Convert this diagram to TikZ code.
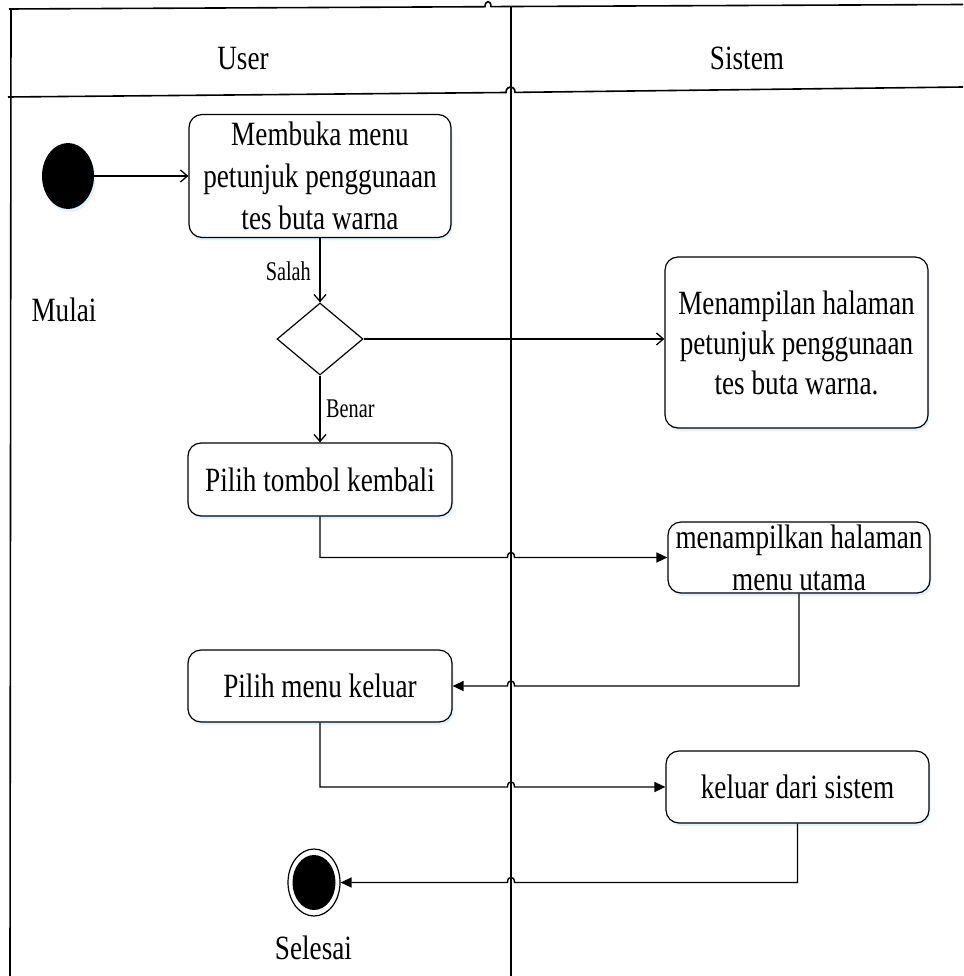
\documentclass[tikz,border=0pt]{standalone}
\usepackage{fontspec}
\setmainfont[FakeStretch=0.8]{Liberation Serif}
\newfontfamily\labelfont[FakeStretch=0.75]{Liberation Serif}
\usetikzlibrary{shapes.geometric,arrows.meta,calc,shadows}

\begin{document}
\begin{tikzpicture}[x=1pt,y=-1pt,
  lane/.style={line width=1.6pt},
  glow/.style={drop shadow={shadow xshift=1.5pt,shadow yshift=-3pt,fill=blue!40!cyan!35,opacity=0.35}},
  activity/.style={draw, line width=1.2pt, rounded corners=13pt, fill=white, glow,
    align=center, inner sep=0pt, font=\fontsize{34}{42}\selectfont},
  decision/.style={draw, diamond, line width=1.2pt, fill=white, inner sep=0pt,
    minimum width=86pt, minimum height=72pt},
  startnode/.style={ellipse, fill=black, inner sep=0pt, glow,
    minimum width=52pt, minimum height=66pt},
  endouter/.style={ellipse, draw, line width=1.2pt, fill=white, inner sep=0pt,
    minimum width=52pt, minimum height=67pt},
  endinner/.style={ellipse, fill=black, inner sep=0pt,
    minimum width=43pt, minimum height=55pt},
  txt/.style={inner sep=0pt, font=\fontsize{34}{42}\selectfont},
  lbl/.style={inner sep=0pt, font=\labelfont\fontsize{27}{30}\selectfont},
  open/.style={line width=1.3pt, -{Straight Barb[length=7pt,width=12pt]}},
  flow/.style={line width=1.4pt, -{Triangle[length=11pt,width=10pt]}}
]
\useasboundingbox (0,0) rectangle (963,976);

% swimlane frame
\coordinate (div) at (511,6);
\draw[lane] (9,9) -- (485,6.7) .. controls (485,0) and (491,0) .. (491,6.6) -- (963,4.5);
\draw[lane] (8,97) -- (506,92.5) .. controls (506,85) and (515,85) .. (515,92.4) -- (963,87);
\draw[lane] (11,9) -- (10,976);
\draw[line width=1.4pt] (div) -- (511,976);

\node[txt, anchor=base] (user) at (243,70) {User};
\node[txt, anchor=base] (sistem) at (747,70) {Sistem};

% activity nodes
\node[startnode] (s) at (68,176) {};
\node[txt, anchor=base] (mulai) at (64,321) {Mulai};

\node[activity, minimum width=262pt, minimum height=123pt] (b1) at (320,176)
  {Membuka menu\\petunjuk penggunaan\\tes buta warna};
\node[decision] (d) at (320,339) {};
\node[activity, minimum width=263pt, minimum height=171pt,
  font=\fontsize{34}{40}\selectfont] (b2) at (796.5,342.5)
  {Menampilan halaman\\petunjuk penggunaan\\tes buta warna.};
\node[activity, minimum width=264pt, minimum height=73pt] (b3) at (320,479.5)
  {Pilih tombol kembali};
\node[activity, minimum width=262pt, minimum height=71pt] (b4) at (799,557.5)
  {menampilkan halaman\\menu utama};
\node[activity, minimum width=264pt, minimum height=72pt] (b5) at (320,686)
  {Pilih menu keluar};
\node[activity, minimum width=263pt, minimum height=72pt] (b6) at (797.5,787)
  {keluar dari sistem};

\node[endouter] (e) at (314,882.5) {};
\node[endinner] (ei) at (e) {};
\node[txt, anchor=base] (selesai) at (313.5,959) {Selesai};

% connectors
\draw[open] (s.east) -- (s.east -| b1.west);
\draw[open] (b1.south) -- (d.north);
\node[lbl, anchor=base east] (salah) at (311,280) {Salah};
\draw[open] (d.east) -- (d.east -| b2.west);
\draw[open] (d.south) -- (b3.north);
\node[lbl, anchor=base west] (benar) at (326,417) {Benar};

\draw[flow] (b3.south) -- (b3.south |- b4.west)
  -- ($(b4.west -| div)+(-3.5,0)$) .. controls +(0,-7) and +(0,-7) .. ($(b4.west -| div)+(3.5,0)$)
  -- (b4.west);
\draw[flow] (b4.south) -- (b4.south |- b5.east)
  -- ($(b5.east -| div)+(3.5,0)$) .. controls +(0,-7) and +(0,-7) .. ($(b5.east -| div)+(-3.5,0)$)
  -- (b5.east);
\draw[flow] (b5.south) -- (b5.south |- b6.west)
  -- ($(b6.west -| div)+(-3.5,0)$) .. controls +(0,-7) and +(0,-7) .. ($(b6.west -| div)+(3.5,0)$)
  -- (b6.west);
\draw[flow] (b6.south) -- (b6.south |- e.east)
  -- ($(e.east -| div)+(3.5,0)$) .. controls +(0,-7) and +(0,-7) .. ($(e.east -| div)+(-3.5,0)$)
  -- (e.east);
\end{tikzpicture}
\end{document}
